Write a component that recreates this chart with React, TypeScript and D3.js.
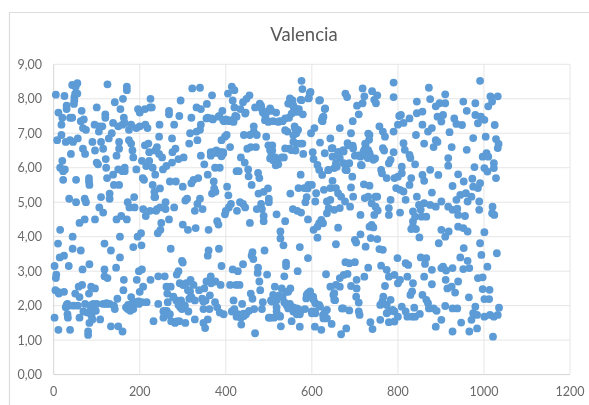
import React from "react";
import * as d3 from "d3";

const xTicks = [0, 200, 400, 600, 800, 1000, 1200];
const yTicks = [0, 1, 2, 3, 4, 5, 6, 7, 8, 9];
const title = "Valencia";

const pts0: number[][] = [[2,1.65],[5,8.12],[2,3.15],[4,2.45],[5,2.8],[6,2.9],[10,2.4],[10,3.8],[8,6.8],[11,1.3],[12,2.35],[11,7.6],[14,3.4],[15,4.2],[15,6.0],[18,6.95],[18,7.25],[20,7.45],[20,6.2],[22,5.9],[22,5.65],[24,3.45],[24,2.4],[25,8.08],[26,5.95],[28,1.95],[28,6.75],[30,7.7],[30,7.8],[32,2.05],[32,1.75],[33,1.65],[35,2.0],[36,5.1],[35,3.15],[38,1.3],[38,7.45],[38,6.8],[40,6.4],[43,8.4],[43,7.45],[44,3.65],[44,4.0],[45,6.75],[46,2.0],[47,7.85],[48,7.95],[48,8.05],[50,8.15],[50,2.35],[51,8.35],[52,5.65],[52,5.0],[55,8.45],[55,8.15],[56,6.85],[56,2.0],[58,2.55],[60,1.65],[60,4.4],[60,2.25],[63,3.6],[63,7.35],[65,7.65],[66,2.6],[67,3.05],[68,6.55],[68,7.15],[70,7.4],[72,5.1],[72,4.5],[73,2.05],[73,6.4],[75,7.1],[75,5.0],[78,1.8],[80,1.15],[80,1.25],[82,5.7],[82,5.6],[82,2.35],[83,1.5],[83,5.5],[83,3.2],[85,1.85],[86,2.0],[87,2.55],[88,1.7],[90,6.75],[90,1.6],[92,2.05],[95,7.25],[96,6.5],[96,2.5],[96,4.5],[98,1.85],[100,7.75],[100,6.15]];
const pts100: number[][] = [[100,2.05],[103,6.1],[105,7.05],[106,7.2],[106,4.85],[108,1.6],[110,5.15],[110,6.75],[113,7.2],[115,6.55],[115,4.7],[115,2.05],[118,3.05],[118,3.8],[118,2.85],[120,7.55],[120,7.45],[121,6.25],[122,6.0],[123,2.05],[124,5.7],[125,8.42],[125,2.8],[128,6.85],[130,5.25],[130,5.1],[130,2.05],[133,1.4],[133,3.6],[135,7.0],[138,7.3],[138,5.8],[140,5.5],[140,2.0],[142,1.9],[142,7.9],[145,3.1],[146,6.35],[146,4.5],[148,2.2],[150,5.95],[150,7.2],[150,1.4],[152,6.75],[152,6.55],[152,5.5],[154,4.0],[154,3.4],[155,7.7],[157,4.6],[160,7.25],[160,1.25],[160,5.9],[161,8.0],[162,2.45],[163,2.75],[163,7.45],[165,7.3],[165,5.9],[165,6.0],[168,1.95],[170,8.25],[170,8.35],[170,4.5],[172,1.9],[172,5.0],[173,2.0],[175,7.1],[175,6.8],[176,4.85],[178,1.85],[180,6.7],[180,7.25],[180,2.25],[182,2.05],[183,6.5],[185,3.7],[185,6.3],[185,1.9],[187,5.15],[188,4.85],[190,2.1],[192,5.95],[192,7.15],[193,2.75],[195,4.0],[196,7.7],[198,3.0],[198,2.05],[200,7.6],[200,2.4],[200,7.2]];
const pts200: number[][] = [[203,4.1],[204,3.75],[205,3.05],[205,2.1],[205,6.2],[207,5.7],[208,4.8],[208,2.55],[210,5.65],[212,6.65],[212,7.7],[213,7.25],[214,4.6],[215,6.05],[216,2.1],[218,7.15],[220,6.7],[222,6.2],[222,6.45],[224,7.75],[224,4.75],[225,8.0],[225,2.75],[228,7.75],[230,6.0],[230,5.5],[232,1.55],[234,5.15],[234,5.3],[236,6.5],[236,5.8],[236,5.15],[238,4.75],[240,6.6],[240,4.8],[242,4.1],[243,2.05],[243,2.85],[245,6.4],[245,6.9],[246,7.25],[247,5.4],[247,4.85],[248,4.2],[250,4.4],[252,6.3],[254,5.95],[255,1.65],[256,1.85],[258,2.85],[260,5.0],[260,4.8],[262,6.05],[262,2.55],[263,1.85],[264,2.35],[265,2.1],[268,4.5],[268,7.55],[268,7.65],[270,5.6],[270,1.75],[272,3.65],[272,2.55],[273,1.55],[275,6.85],[275,6.15],[276,6.45],[278,2.25],[280,7.25],[280,4.85],[282,1.5],[283,6.55],[284,5.6],[285,2.15],[286,2.9],[290,6.25],[290,3.0],[292,1.55],[292,7.5],[293,2.65],[294,1.95],[295,7.95],[296,2.15],[298,3.3],[298,1.9],[300,5.45],[300,4.35],[300,3.25]];
const pts300: number[][] = [[302,6.3],[303,2.6],[305,2.0],[306,1.5],[306,5.05],[308,2.65],[310,5.1],[312,4.2],[312,2.45],[315,6.7],[315,2.2],[317,7.0],[318,2.75],[320,7.45],[320,2.25],[320,5.55],[322,8.3],[325,5.65],[325,2.6],[328,4.75],[328,2.15],[328,1.6],[330,4.25],[332,7.05],[332,7.75],[334,6.8],[334,4.95],[336,5.7],[338,2.45],[340,8.32],[340,7.1],[340,5.1],[342,7.25],[342,6.35],[342,7.7],[345,2.2],[346,4.8],[348,1.5],[348,1.9],[350,2.5],[350,6.1],[352,1.35],[353,2.15],[355,2.7],[356,7.85],[358,5.8],[358,7.45],[358,3.45],[358,1.6],[360,4.2],[360,3.6],[362,1.9],[363,2.3],[365,2.85],[365,6.45],[365,6.35],[366,2.65],[368,8.1],[368,5.25],[370,7.4],[372,6.45],[372,5.6],[373,5.4],[375,2.1],[375,6.0],[376,2.7],[376,5.3],[378,6.5],[380,4.45],[380,1.95],[383,4.35],[384,3.65],[385,7.5],[386,6.0],[386,1.8],[387,6.4],[388,2.6],[390,3.15],[390,6.8],[392,7.65],[394,6.45],[395,1.75],[396,7.35],[398,4.65],[398,6.9],[400,4.75],[400,7.4]];
const pts400: number[][] = [[402,6.95],[403,5.45],[405,8.15],[406,5.2],[407,4.85],[408,7.35],[410,6.6],[410,2.6],[412,4.95],[414,8.35],[416,7.95],[416,3.05],[418,2.15],[418,7.4],[420,8.25],[420,1.9],[420,7.75],[422,7.5],[424,2.6],[425,5.9],[426,4.75],[428,3.0],[428,1.75],[430,5.9],[432,2.6],[433,5.0],[434,7.7],[435,1.65],[435,6.3],[436,1.45],[438,2.05],[440,7.9],[440,3.2],[440,4.95],[442,6.95],[442,1.7],[444,6.15],[445,4.85],[446,7.6],[447,1.75],[448,8.0],[450,6.55],[452,5.95],[453,5.75],[454,1.85],[455,8.1],[456,6.95],[456,4.4],[458,2.35],[458,6.6],[460,3.45],[460,5.5],[462,3.55],[462,2.2],[464,3.35],[465,7.05],[465,7.2],[466,1.9],[468,1.2],[468,7.75],[470,6.6],[472,6.95],[472,4.8],[474,2.95],[475,5.85],[475,3.1],[476,5.25],[478,2.7],[478,5.7],[480,2.45],[482,4.95],[482,7.8],[484,1.9],[484,4.8],[486,2.1],[486,7.6],[488,5.3],[488,4.6],[488,4.45],[490,3.6],[492,7.5],[494,6.9],[496,2.9],[498,5.4],[498,7.35],[500,5.1],[500,5.0],[500,1.65]];
const pts500: number[][] = [[503,1.65],[505,2.15],[506,7.65],[506,6.35],[508,6.65],[508,6.5],[510,7.35],[512,1.65],[514,2.25],[514,2.55],[515,6.3],[517,7.6],[518,4.65],[518,1.95],[520,6.2],[522,6.1],[524,2.3],[525,7.35],[526,1.7],[527,4.15],[527,3.95],[528,1.4],[530,2.5],[532,7.35],[532,2.25],[534,3.75],[535,6.3],[536,2.1],[536,2.85],[538,4.45],[540,3.15],[540,3.25],[540,2.4],[543,7.05],[545,2.4],[547,7.45],[548,6.55],[549,2.05],[550,5.25],[550,2.5],[552,7.85],[553,1.55],[555,7.95],[556,4.8],[557,1.95],[558,7.75],[560,7.2],[562,6.5],[564,6.7],[564,7.0],[565,7.7],[566,4.75],[567,3.0],[568,1.9],[568,7.1],[570,7.7],[572,1.75],[574,5.8],[574,1.85],[575,4.7],[572,3.7],[569,5.41],[572,1.39],[578,6.7],[576,8.52],[574,7.97],[584,1.9],[578,8.28],[579,7.55],[582,5.41],[580,6.4],[585,5.0],[588,5.15],[590,5.4],[587,2.21],[591,4.5],[591,3.38],[592,5.5],[593,8.02],[591,2.36],[595,8.16],[598,7.0]];
const pts600: number[][] = [[600,5.5],[602,6.45],[606,7.15],[604,6.25],[600,1.83],[604,4.2],[604,2.17],[608,5.02],[608,2.07],[608,1.78],[607,1.39],[610,5.26],[613,6.08],[613,4.29],[613,3.97],[617,7.95],[617,5.94],[617,4.39],[617,2.02],[619,6.73],[622,4.49],[622,1.3],[624,5.79],[625,7.35],[625,7.45],[626,4.39],[626,1.73],[628,5.36],[630,7.7],[630,6.42],[633,2.91],[635,5.02],[635,4.68],[635,1.88],[635,1.63],[639,5.94],[639,4.83],[643,6.85],[643,5.41],[643,5.07],[643,2.55],[646,1.47],[648,6.32],[648,6.57],[648,5.62],[650,2.31],[652,5.99],[652,4.78],[652,2.17],[656,6.13],[656,5.41],[656,3.78],[656,2.6],[661,6.42],[661,5.26],[661,4.26],[665,7.15],[665,6.28],[665,4.83],[665,2.8],[665,2.55],[668,5.16],[668,1.17],[670,1.92],[674,6.13],[674,6.47],[674,2.89],[677,5.02],[678,8.15],[678,5.94],[678,3.26],[680,1.34],[682,8.05],[683,6.71],[683,2.92],[687,6.13],[687,3.23],[687,1.86],[689,4.87],[691,7.0],[691,5.43],[691,2.57],[694,5.74],[695,7.35],[695,6.64],[696,5.16],[700,6.35],[700,3.91],[700,3.26]];
const pts700: number[][] = [[703,3.83],[703,2.26],[704,2.75],[704,2.5],[705,7.8],[709,7.55],[709,2.09],[709,1.83],[711,1.73],[713,6.32],[713,4.63],[713,4.07],[714,6.08],[718,8.3],[718,7.87],[721,5.52],[722,8.07],[722,6.52],[722,2.84],[723,5.12],[725,6.66],[725,6.37],[725,3.71],[730,6.28],[731,5.16],[731,3.1],[733,6.81],[734,6.95],[734,6.42],[734,5.48],[734,4.29],[736,1.52],[737,3.96],[739,4.97],[739,4.34],[740,8.22],[741,1.32],[743,6.23],[743,4.27],[745,7.97],[745,4.63],[748,5.16],[748,4.87],[749,7.87],[752,8.1],[752,5.16],[752,3.93],[753,4.76],[757,7.2],[757,3.64],[759,2.02],[759,1.59],[761,5.94],[761,3.16],[763,5.84],[764,2.12],[765,7.05],[765,6.57],[765,3.62],[766,2.26],[768,6.5],[770,6.9],[770,2.57],[774,5.7],[774,3.04],[774,2.02],[774,1.78],[779,6.13],[779,4.83],[779,4.63],[779,2.84],[779,1.83],[779,1.52],[783,6.23],[783,5.07],[783,2.17],[788,1.88],[790,8.47],[790,8.05],[790,7.05],[790,6.45],[792,5.7],[792,2.89],[792,1.83],[792,1.54],[796,5.41],[799,3.38],[800,7.25],[800,5.74],[800,2.65],[800,1.68]];
const pts800: number[][] = [[803,7.5],[805,5.36],[805,4.7],[805,2.75],[807,7.53],[809,6.03],[809,5.84],[809,1.97],[813,7.3],[813,6.71],[813,5.31],[816,6.52],[818,5.07],[818,3.23],[818,1.83],[822,2.84],[822,1.68],[824,3.18],[827,7.43],[827,6.37],[827,5.5],[829,6.28],[829,2.31],[831,5.7],[831,4.22],[833,2.41],[833,1.68],[835,4.73],[835,4.44],[835,4.29],[835,2.65],[838,1.94],[840,6.1],[840,4.58],[840,1.68],[842,6.95],[842,4.22],[844,7.92],[844,7.58],[844,5.16],[849,4.92],[850,3.98],[851,1.76],[853,4.78],[853,3.4],[855,4.58],[857,7.63],[857,7.25],[857,5.79],[857,2.31],[861,6.7],[861,5.62],[861,4.97],[861,2.84],[863,3.21],[866,4.58],[866,3.38],[866,2.17],[870,7.05],[870,2.07],[872,8.32],[872,1.92],[875,7.99],[875,5.94],[875,4.92],[879,7.15],[879,5.28],[879,3.04],[879,2.62],[883,6.6],[883,1.92],[888,7.78],[888,6.8],[888,4.87],[888,1.39],[890,1.85],[892,7.48],[892,6.75],[894,5.79],[895,3.81],[897,7.87],[901,7.34],[901,5.02],[901,4.2],[901,3.09],[901,1.59]];
const pts900: number[][] = [[905,7.53],[905,3.13],[910,8.13],[910,7.87],[910,4.0],[910,1.99],[911,2.75],[912,3.02],[915,2.5],[917,6.28],[917,6.06],[917,4.87],[918,4.15],[920,7.03],[925,6.6],[925,2.55],[927,5.47],[927,4.78],[927,3.09],[927,1.92],[927,1.25],[931,7.43],[933,2.38],[936,7.27],[936,5.07],[938,4.81],[938,1.92],[940,5.81],[940,4.63],[940,4.29],[940,2.7],[945,5.21],[945,3.4],[947,1.51],[949,7.24],[952,7.92],[952,4.25],[952,3.06],[953,5.6],[953,3.67],[956,4.6],[958,5.26],[960,7.65],[960,6.52],[962,5.02],[962,4.15],[962,3.3],[965,2.24],[966,3.09],[966,1.25],[971,5.16],[971,1.59],[973,5.68],[975,6.86],[975,5.45],[975,1.78],[978,6.02],[980,7.87],[980,7.53],[980,1.97],[984,1.34],[984,1.73],[986,7.29],[986,5.41],[986,2.8],[989,5.02],[989,4.78],[991,8.52],[991,5.55],[991,3.81],[993,7.48],[994,3.47],[997,6.32],[997,2.82],[997,2.48],[1001,7.39],[1001,5.99],[1001,4.13],[1001,2.19],[1001,1.68],[1004,6.9],[1006,6.42],[1008,5.89],[1008,3.13],[1010,7.78],[1010,6.32],[1012,2.19],[1013,2.46],[1014,1.73],[1015,8.07],[1019,7.92],[1019,4.68],[1020,4.87],[1021,1.1],[1023,6.13],[1023,5.99],[1023,1.68],[1024,4.63],[1025,7.24],[1028,6.83],[1028,5.7],[1030,3.52],[1032,8.07],[1032,6.57],[1032,1.73],[1034,6.69],[1035,1.94]];
const ptsLowCluster: number[][] = [[507,2.12],[518,2.16],[510,2.31],[518,1.83],[526,1.68],[541,2.02],[545,1.92],[557,1.83],[565,1.92],[572,1.87],[565,1.75],[418,1.87],[414,1.83],[425,1.68],[441,1.77],[588,2.31],[596,2.41],[603,2.26],[619,1.97],[607,1.83],[600,1.78],[631,1.83],[627,1.63],[652,2.36],[654,2.16],[673,1.92],[30,2.02],[69,1.83],[88,2.02],[123,2.07],[173,2.02],[181,1.92],[197,2.12],[301,2.6],[317,2.41],[301,2.02],[290,2.02],[278,2.26],[313,1.83],[348,2.12],[255,1.83],[266,1.73],[286,1.54]];
const ptsHighCluster: number[][] = [[355,7.43],[367,7.43],[383,7.48],[394,7.38],[406,7.38],[418,7.33],[425,7.48],[445,7.57],[479,7.86],[483,7.72],[495,7.62],[503,7.72],[491,7.38],[499,7.33],[522,7.33],[538,7.43],[538,7.09],[561,7.14],[557,6.94],[557,6.75],[572,6.7],[538,6.56],[553,6.51],[549,8.01],[545,7.86],[557,7.81],[565,7.62],[553,7.57],[576,7.96],[592,8.01],[597,8.2],[619,7.96],[631,7.72],[623,7.38],[627,7.48]];
const ptsMidCluster: number[][] = [[367,6.41],[375,6.43],[386,6.46],[394,6.41],[390,6.33],[499,6.65],[503,6.51],[503,6.27],[510,6.22],[516,6.07],[530,6.3],[646,6.56],[662,6.46],[673,6.51],[685,6.65],[696,6.56],[708,6.36],[720,6.46],[731,6.51],[724,6.7],[731,6.99],[735,6.36],[747,6.27],[716,6.07],[681,5.93],[658,6.03],[638,5.93]];

const allPoints = [...pts0, ...pts100, ...pts200, ...pts300, ...pts400, ...pts500, ...pts600, ...pts700, ...pts800, ...pts900, ...ptsLowCluster, ...ptsHighCluster, ...ptsMidCluster];

const x = d3.scaleLinear().domain([0, 1200]).range([53.7, 570]);
const y = d3.scaleLinear().domain([0, 9]).range([374.6, 64.3]);
const fmt = (v: number) => v.toFixed(2).replace(".", ",");

export default function App() {
  return (
    <svg width={589} height={405} style={{ position: "absolute", left: 0, top: 0, background: "#fff" }}>
      <defs>
        <filter id="soft" x="-2%" y="-2%" width="104%" height="104%">
          <feGaussianBlur stdDeviation="0.45" />
        </filter>
      </defs>
      <g filter="url(#soft)" fontFamily="Lato, 'Open Sans', sans-serif">
        <path d="M589 12.5H9.5V405" fill="none" stroke="#dcdcdc" strokeWidth={1.2} />
        <text x={304} y={41} textAnchor="middle" fontSize={18.5} fill="#595959">{title}</text>
        {yTicks.map((t) => (
          <line key={t} x1={x(0)} x2={x(1200)} y1={y(t)} y2={y(t)} stroke={t === 0 ? "#d4d4d4" : "#e6e6e6"} />
        ))}
        {xTicks.map((t) => (
          <line key={t} x1={x(t)} x2={x(t)} y1={y(0)} y2={y(9)} stroke={t === 0 ? "#d4d4d4" : "#e6e6e6"} />
        ))}
        {yTicks.map((t) => (
          <text key={t} x={42} y={y(t) + 4.5} textAnchor="end" fontSize={12.5} fill="#6a6a6a">{fmt(t)}</text>
        ))}
        {xTicks.map((t) => (
          <text key={t} x={x(t)} y={396} textAnchor="middle" fontSize={12.5} fill="#6a6a6a">{t}</text>
        ))}
        {allPoints.map(([a, b], i) => (
          <circle key={i} cx={x(a)} cy={y(b)} r={3.9} fill="#5b9bd5" />
        ))}
      </g>
    </svg>
  );
}
